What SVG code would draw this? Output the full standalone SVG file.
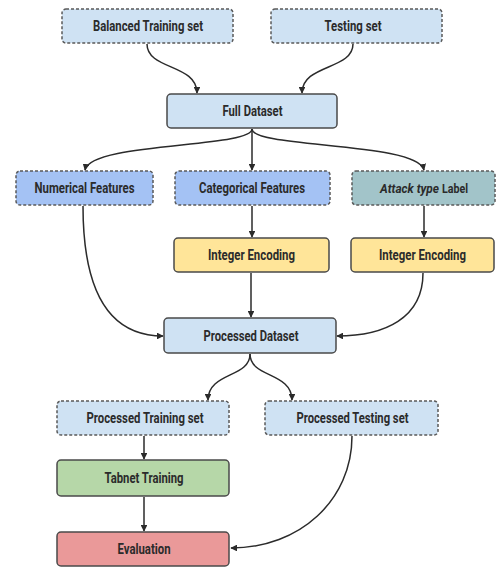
<svg xmlns="http://www.w3.org/2000/svg" width="499" height="567" viewBox="0 0 499 567">
  <style>
    .box { stroke: #4a4a4a; stroke-width: 1.5; }
    .dash { stroke: #5a5a5a; stroke-width: 1.5; stroke-dasharray: 3 2; }
    .lb { fill: #cfe2f3; }
    .bl { fill: #a4c2f4; }
    .tl { fill: #a2c4c9; }
    .ye { fill: #ffe599; }
    .gr { fill: #b6d7a8; }
    .rd { fill: #ea9999; }
    text { font-family: "Roboto", "Liberation Sans", sans-serif; font-weight: bold; font-size: 14px; fill: #2b2b2b; text-anchor: middle; }
    .start { text-anchor: start; font-size: 13px; }
    .edge { fill: none; stroke: #2b2b2b; stroke-width: 1.5; marker-end: url(#arr); }
  </style>
  <defs>
    <marker id="arr" viewBox="0 0 10 10" refX="9" refY="5" markerWidth="4.5" markerHeight="4.5" orient="auto">
      <path d="M0,0 L10,5 L0,10 Z" fill="#2b2b2b"/>
    </marker>
  </defs>
  <rect width="499" height="567" fill="#ffffff"/>

  <g id="connectors">
    <path class="edge" d="M147,44 C147,70 197,64 197,93"/>
    <path class="edge" d="M353,44 C353,70 302,64 302,93"/>
    <path class="edge" d="M252,129 C252,148 90,142 85,170"/>
    <path class="edge" d="M252,129 L252,170"/>
    <path class="edge" d="M252,129 C252,148 418,142 424,170"/>
    <path class="edge" d="M252,206 L252,237"/>
    <path class="edge" d="M424,206 L424,237"/>
    <path class="edge" d="M83,206 C83,300 115,336 163,336"/>
    <path class="edge" d="M251,273 L251,317"/>
    <path class="edge" d="M423,273 C423,318 385,336 337,336"/>
    <path class="edge" d="M250,354 C250,378 208,372 208,400"/>
    <path class="edge" d="M250,354 C250,378 292,372 292,400"/>
    <path class="edge" d="M144,436 L144,459"/>
    <path class="edge" d="M144,497 L144,531"/>
    <path class="edge" d="M352,436 C352,500 300,548 231,548"/>
  </g>

  <g id="balanced-training">
    <rect class="lb dash" x="62" y="9" width="171" height="34" rx="4"/>
    <text x="148" y="31" textLength="110" lengthAdjust="spacingAndGlyphs">Balanced Training set</text>
  </g>
  <g id="testing-set">
    <rect class="lb dash" x="271" y="9" width="171" height="34" rx="4"/>
    <text x="353" y="31" textLength="57" lengthAdjust="spacingAndGlyphs">Testing set</text>
  </g>
  <g id="full-dataset">
    <rect class="lb box" x="167" y="94" width="170" height="34" rx="4"/>
    <text x="252.5" y="116" textLength="60" lengthAdjust="spacingAndGlyphs">Full Dataset</text>
  </g>
  <g id="numerical-features">
    <rect class="bl dash" x="16" y="171" width="137" height="34" rx="4"/>
    <text x="84.5" y="193" textLength="100" lengthAdjust="spacingAndGlyphs">Numerical Features</text>
  </g>
  <g id="categorical-features">
    <rect class="bl dash" x="175" y="171" width="155" height="34" rx="4"/>
    <text x="252" y="193" textLength="106" lengthAdjust="spacingAndGlyphs">Categorical Features</text>
  </g>
  <g id="attack-type-label">
    <rect class="tl dash" x="352" y="171" width="143" height="34" rx="4"/>
    <text class="start" x="380" y="193"><tspan font-style="italic" textLength="59" lengthAdjust="spacingAndGlyphs">Attack type</tspan><tspan x="442" textLength="26" lengthAdjust="spacingAndGlyphs">Label</tspan></text>
  </g>
  <g id="integer-encoding-1">
    <rect class="ye box" x="174" y="238" width="155" height="34" rx="4"/>
    <text x="251.5" y="260" textLength="87" lengthAdjust="spacingAndGlyphs">Integer Encoding</text>
  </g>
  <g id="integer-encoding-2">
    <rect class="ye box" x="351" y="238" width="143" height="34" rx="4"/>
    <text x="422.5" y="260" textLength="87" lengthAdjust="spacingAndGlyphs">Integer Encoding</text>
  </g>
  <g id="processed-dataset">
    <rect class="lb box" x="164" y="318" width="172" height="35" rx="4"/>
    <text x="251" y="340.5" textLength="95" lengthAdjust="spacingAndGlyphs">Processed Dataset</text>
  </g>
  <g id="processed-training">
    <rect class="lb dash" x="57" y="401" width="172" height="34" rx="4"/>
    <text x="145" y="423" textLength="117" lengthAdjust="spacingAndGlyphs">Processed Training set</text>
  </g>
  <g id="processed-testing">
    <rect class="lb dash" x="265" y="401" width="173" height="34" rx="4"/>
    <text x="352.5" y="423" textLength="112" lengthAdjust="spacingAndGlyphs">Processed Testing set</text>
  </g>
  <g id="tabnet-training">
    <rect class="gr box" x="57" y="460" width="172" height="36" rx="4"/>
    <text x="144" y="483" textLength="79" lengthAdjust="spacingAndGlyphs">Tabnet Training</text>
  </g>
  <g id="evaluation">
    <rect class="rd box" x="57" y="532" width="172" height="34" rx="4"/>
    <text x="144" y="554" textLength="53" lengthAdjust="spacingAndGlyphs">Evaluation</text>
  </g>
</svg>
